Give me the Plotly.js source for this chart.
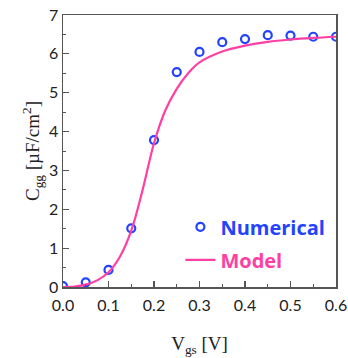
<!DOCTYPE html>
<html>
<head>
<meta charset="utf-8">
<script src="https://cdn.plot.ly/plotly-3.0.1.min.js"></script>
<style>html,body{margin:0;padding:0;background:#fff;}#chart{width:348px;height:358px;}</style>
</head>
<body>
<div id="chart"></div>
<script>
// Numerical data points
const numVgs = [0.0, 0.05, 0.1, 0.15, 0.2, 0.25, 0.3, 0.35, 0.4, 0.45, 0.5, 0.55, 0.6];
const numCgg = [0.02, 0.12, 0.44, 1.51, 3.78, 5.53, 6.05, 6.30, 6.38, 6.48, 6.47, 6.44, 6.44];
// Model curve
const modelVgs = [0.0, 0.025, 0.05, 0.075, 0.1, 0.125, 0.15, 0.175, 0.2, 0.225, 0.25, 0.275, 0.3, 0.35, 0.4, 0.45, 0.5, 0.55, 0.6];
const modelCgg = [0.0, 0.01, 0.06, 0.17, 0.38, 0.78, 1.45, 2.5, 3.7, 4.55, 5.1, 5.5, 5.78, 6.06, 6.21, 6.31, 6.37, 6.41, 6.44];
const xTicks = [0, 0.1, 0.2, 0.3, 0.4, 0.5, 0.6];
const xTickText = ['0.0', '0.1', '0.2', '0.3', '0.4', '0.5', '0.6'];
const yTicks = [0, 1, 2, 3, 4, 5, 6, 7];

const BLUE = '#2343ff';
const PINK = '#ff3fa3';

const traces = [
  {
    x: numVgs, y: numCgg, type: 'scatter', mode: 'markers', name: 'Numerical',
    legendgroup: 'a',
    marker: {symbol: 'circle-open', size: 8, color: BLUE, line: {width: 2.2, color: BLUE}}
  },
  {
    x: modelVgs, y: modelCgg, type: 'scatter', mode: 'lines', name: 'Model',
    legendgroup: 'b',
    line: {color: PINK, width: 2.2, shape: 'spline', smoothing: 1}
  }
];

const axisCommon = {
  showline: true, linecolor: '#555', linewidth: 1.5, mirror: true,
  ticks: 'inside', ticklen: 6, tickwidth: 1.2, tickcolor: '#555',
  showgrid: false, zeroline: false,
  tickfont: {family: 'Lato, sans-serif', size: 16, color: '#222'}
};

const layout = {
  width: 348, height: 358,
  margin: {l: 63, r: 12, t: 15, b: 71},
  paper_bgcolor: '#fff', plot_bgcolor: '#fff',
  showlegend: true,
  legend: {
    x: 0.43, y: 0.293, xanchor: 'left', yanchor: 'top',
    bgcolor: 'rgba(0,0,0,0)', traceorder: 'grouped', tracegroupgap: 4,
    font: {family: 'Open Sans, sans-serif', size: 20, color: '#000', weight: 'bold'}
  },
  xaxis: Object.assign({}, axisCommon, {
    range: [0, 0.6], tickvals: xTicks, ticktext: xTickText, ticklabelstandoff: 3,
    minor: {dtick: 0.05, ticks: 'inside', ticklen: 3, tickcolor: '#555', tickwidth: 1},
    title: {text: 'V<sub>gs</sub> [V]', standoff: 24, font: {family: 'Liberation Serif, serif', size: 19, color: '#222'}}
  }),
  yaxis: Object.assign({}, axisCommon, {
    range: [0, 7], tickvals: yTicks,
    minor: {dtick: 0.5, ticks: 'inside', ticklen: 3, tickcolor: '#555', tickwidth: 1},
    title: {text: 'C<sub>gg</sub> [µF/cm<sup>2</sup>]', standoff: 4, font: {family: 'Liberation Serif, serif', size: 19, color: '#222'}}
  })
};

Plotly.newPlot('chart', traces, layout, {displayModeBar: false, staticPlot: true}).then(function () {
  // colour legend texts like the series
  const texts = document.querySelectorAll('.legendtext');
  if (texts[0]) texts[0].style.fill = BLUE;
  if (texts[1]) texts[1].style.fill = PINK;
});
</script>
</body>
</html>
